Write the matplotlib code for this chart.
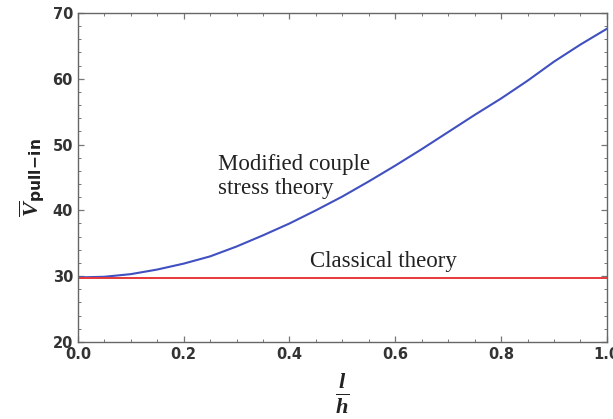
import matplotlib
matplotlib.use("Agg")
import matplotlib.pyplot as plt
from matplotlib.ticker import MultipleLocator, FormatStrFormatter

# serif italic letters with a bold sans subscript
plt.rcParams['mathtext.fontset'] = 'custom'
plt.rcParams['mathtext.rm'] = 'Liberation Serif'
plt.rcParams['mathtext.it'] = 'Liberation Serif:italic'
plt.rcParams['mathtext.bf'] = 'Liberation Serif:bold'
plt.rcParams['mathtext.bfit'] = 'Liberation Serif:italic:bold'
plt.rcParams['mathtext.sf'] = 'DejaVu Sans:bold'

# length-scale ratio l/h
ratio = [0.0, 0.05, 0.1, 0.15, 0.2, 0.25, 0.3, 0.35, 0.4, 0.45, 0.5,
         0.55, 0.6, 0.65, 0.7, 0.75, 0.8, 0.85, 0.9, 0.95, 1.0]
# normalized pull-in voltage, modified couple stress theory
v_mcst = [29.8, 29.9, 30.3, 31.0, 31.9, 33.0, 34.5, 36.2, 38.0, 40.0, 42.1,
          44.4, 46.8, 49.3, 51.9, 54.5, 57.0, 59.7, 62.6, 65.2, 67.6]
# classical theory gives a constant value
v_classical = [29.7] * len(ratio)

fig = plt.figure(figsize=(6.13, 4.19), dpi=100)
ax = fig.add_axes([0.127, 0.184, 0.863, 0.785])

ax.plot(ratio, v_mcst, color='#4050c0', lw=1.5)
ax.plot(ratio, v_classical, color='#e8383a', lw=1.4)

ax.set_xlim(0, 1)
ax.set_ylim(20, 70)
ax.xaxis.set_major_locator(MultipleLocator(0.2))
ax.xaxis.set_minor_locator(MultipleLocator(0.05))
ax.yaxis.set_major_locator(MultipleLocator(10))
ax.yaxis.set_minor_locator(MultipleLocator(2))
ax.xaxis.set_major_formatter(FormatStrFormatter('%.1f'))

for s in ax.spines.values():
    s.set_color('#666666')
    s.set_linewidth(1.0)
ax.tick_params(which='both', direction='in', top=True, right=True, color='#777777')
ax.tick_params(which='major', length=4, width=0.9, labelsize=10.5, labelcolor='#333333')
ax.tick_params(which='minor', length=2.5, width=0.7)
ax.tick_params(axis='x', pad=4)
for lab in ax.get_xticklabels() + ax.get_yticklabels():
    lab.set_fontweight('bold')
    lab.set_fontfamily('DejaVu Sans')

ax.set_ylabel(r'$\overline{\mathbfit{V}}_{\mathsf{pull\!-\!in}}$', fontsize=16,
              color='#222222', labelpad=4)
ax.set_xlabel(r'$\frac{\mathbfit{l}}{\mathbfit{h}}$', fontsize=23, color='#222222', labelpad=6)

ax.text(0.265, 45.2, 'Modified couple\nstress theory', fontsize=16.5,
        family='Liberation Serif', color='#222222', va='center', ha='left', linespacing=1.2)
ax.text(0.438, 32.2, 'Classical theory', fontsize=16.5,
        family='Liberation Serif', color='#222222', va='center', ha='left')

fig.savefig('out.png', dpi=100)
